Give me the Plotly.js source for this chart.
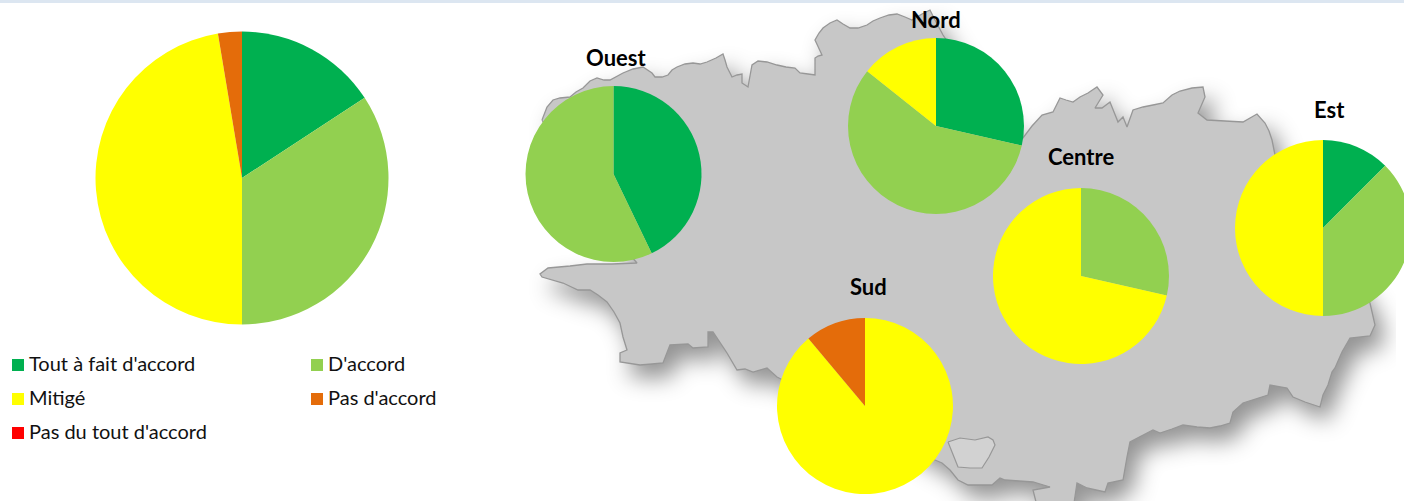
<!DOCTYPE html>
<html>
<head>
<meta charset="utf-8">
<script src="https://cdn.plot.ly/plotly-3.0.1.min.js"></script>
<style>
html,body{margin:0;padding:0;width:1404px;height:501px;overflow:hidden;background:#fff}
#chart{width:1420px;height:501px}
</style>
</head>
<body>
<div id="chart"></div>
<script>
const categories = ["Tout à fait d'accord", "D'accord", "Mitigé", "Pas d'accord", "Pas du tout d'accord"];
const colors = ["#00B050", "#92D050", "#FFFF00", "#E46C0A", "#FF0000"];
const ensemble = [6, 13, 18, 1, 0];
const ouest = [3, 4, 0, 0, 0];
const nord = [2, 4, 1, 0, 0];
const centre = [0, 2, 5, 0, 0];
const est = [1, 3, 4, 0, 0];
const sud = [0, 0, 8, 1, 0];

// Background silhouette of the region (decoration), in picture pixels
const coastX = [542,545,547,553,560,570,576,583,590,597,604,610,617,623,633,643,652,655,662,668,672,677,685,693,700,707,716,723,725,727,732,737,742,742,748,750,752,758,767,777,786,795,800,808,815,815,818,822,818,815,819,823,830,837,843,850,858,867,873,880,889,897,905,912,922,930,935,943,980,1023,1032,1042,1053,1057,1060,1066,1073,1080,1088,1097,1103,1095,1102,1110,1114,1118,1123,1127,1133,1143,1153,1163,1172,1180,1192,1203,1205,1198,1207,1225,1243,1257,1265,1269,1272,1275,1320,1370,1375,1370,1350,1342,1335,1332,1328,1323,1320,1305,1293,1287,1270,1268,1243,1233,1230,1220,1210,1197,1183,1172,1160,1153,1142,1130,1127,1125,1123,1108,1105,1096,1087,1077,1075,1073,1038,1033,1050,1033,1005,1000,992,968,958,950,942,935,900,777,767,753,745,737,727,720,713,708,708,693,688,670,663,652,640,620,620,627,623,620,614,607,598,590,578,563,552,542,540,548,570,587,612,637,600,570,542];
const coastY = [120,112,107,100,98,97,92,88,81,78,80,80,76,73,69,67,73,77,77,75,70,67,64,63,64,62,58,54,60,67,77,75,74,83,87,75,65,61,62,65,67,68,73,74,75,58,56,55,47,40,33,28,23,20,24,28,28,25,21,18,15,14,17,20,14,10,20,35,90,138,126,115,112,104,98,100,102,97,93,87,95,108,108,102,112,122,117,127,110,107,105,103,95,91,88,87,97,113,120,121,122,114,123,131,140,155,230,303,325,336,338,352,368,372,385,395,407,402,397,388,385,395,403,412,423,426,428,427,425,429,433,430,436,442,457,468,480,483,492,490,488,483,498,510,510,490,487,482,480,478,485,485,480,470,463,460,440,377,368,372,369,370,353,342,332,332,347,348,344,345,363,364,365,362,353,350,337,323,312,302,295,290,290,283,280,277,274,268,266,264,264,263,220,170,120];
const lakeX = [948,960,975,988,993,995,989,982,970,958,948];
const lakeY = [442,438,440,437,440,445,457,468,468,467,442];

const W = 1420, H = 501;
function slice(values, cx, cy, r, name) {
  return {
    type: 'pie', name: name, labels: categories, values: values, sort: false,
    direction: 'clockwise', rotation: 0, textinfo: 'none', hoverinfo: 'label+value+percent',
    marker: {colors: colors, line: {width: 0}}, showlegend: false,
    domain: {x: [(cx - r) / W, (cx + r) / W], y: [1 - (cy + r) / H, 1 - (cy - r) / H]}
  };
}

const regionLabels = ["Ouest", "Nord", "Centre", "Est", "Sud"];
const labelX = [616, 936, 1081, 1329, 868];
const labelY = [57, 19, 156, 109, 286];
const legendX = [12, 311, 12, 311, 12];
const legendY = [365, 365, 399, 399, 433];

const traces = [
  {type: 'scatter', mode: 'lines', x: coastX, y: coastY, fill: 'toself', fillcolor: '#C7C7C7',
   line: {color: '#979797', width: 1.3}, hoverinfo: 'skip', showlegend: false},
  {type: 'scatter', mode: 'lines', x: lakeX, y: lakeY, fill: 'toself', fillcolor: '#D2D2D2',
   line: {color: '#979797', width: 1.2}, hoverinfo: 'skip', showlegend: false},
  slice(ensemble, 242, 178, 146.5, 'Ensemble'),
  slice(ouest, 613.5, 174, 88, 'Ouest'),
  slice(nord, 936, 126, 88, 'Nord'),
  slice(centre, 1081, 276, 88, 'Centre'),
  slice(est, 1323, 228, 88, 'Est'),
  slice(sud, 865, 406, 88, 'Sud')
];

const annotations = regionLabels.map((t, i) => ({
  text: '<b>' + t + '</b>', xref: 'x', yref: 'y', x: labelX[i], y: labelY[i], showarrow: false,
  font: {family: 'Lato, sans-serif', size: 22, color: '#000'}, xanchor: 'center', yanchor: 'middle'
})).concat(categories.map((t, i) => ({
  text: t, xref: 'x', yref: 'y', x: legendX[i] + 17, y: legendY[i], xshift: -2, yshift: 2, showarrow: false,
  font: {family: 'Lato, sans-serif', size: 20, color: '#111'}, xanchor: 'left', yanchor: 'middle'
})));

const shapes = [
  {type: 'rect', xref: 'paper', yref: 'paper', x0: 0, x1: 1, y0: 1 - 3 / H, y1: 1, line: {width: 0}, fillcolor: '#DCE6F1'}
].concat(categories.map((t, i) => ({
  type: 'rect', xref: 'x', yref: 'y', x0: legendX[i], x1: legendX[i] + 12, y0: legendY[i] - 6, y1: legendY[i] + 6,
  line: {width: 0}, fillcolor: colors[i]
})));

const layout = {
  width: W, height: H, margin: {l: 0, r: 0, t: 0, b: 0}, paper_bgcolor: '#fff', plot_bgcolor: 'rgba(0,0,0,0)',
  showlegend: false, hovermode: 'closest',
  xaxis: {range: [0, W], visible: false, fixedrange: true},
  yaxis: {range: [H, 0], visible: false, fixedrange: true},
  annotations: annotations, shapes: shapes
};

Plotly.newPlot('chart', traces, layout, {displayModeBar: false, staticPlot: true}).then(() => {
  const items = document.querySelectorAll('.scatterlayer .trace');
  items.forEach((el, i) => {
    el.style.filter = i === 0 ? 'blur(0.7px) drop-shadow(9px 13px 11px rgba(0,0,0,0.42))' : 'blur(0.7px)';
  });
  if (items.length) items[0].parentNode.style.clipPath = 'polygon(0 0, 1396px 0, 1396px 501px, 0 501px) view-box';
});
</script>
</body>
</html>
